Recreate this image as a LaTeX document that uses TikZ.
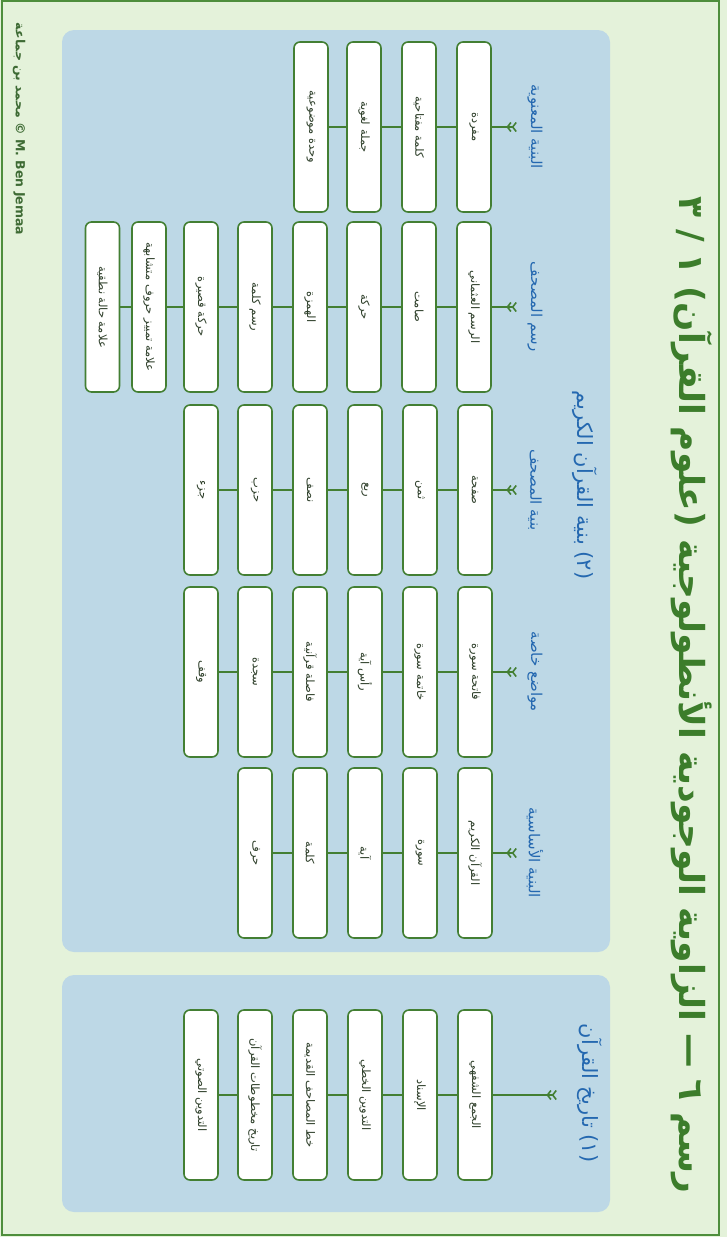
\documentclass[tikz,border=0pt]{standalone}
\usepackage{fontspec}
\usetikzlibrary{arrows.meta}
\TeXXeTstate=1
\setmainfont{DejaVu Sans}
\newfontfamily\arabicfont[Script=Arabic]{DejaVu Sans}
\newcommand{\artxt}[1]{{\arabicfont\beginR #1\endR}}
\definecolor{pagebg}{HTML}{E4F2DA}
\definecolor{pageborder}{HTML}{4E8E3C}
\definecolor{panelbg}{HTML}{BDD8E6}
\definecolor{boxline}{HTML}{437F33}
\definecolor{headblue}{HTML}{2468B0}
\definecolor{titlegreen}{HTML}{3C7D2B}
\definecolor{boxtext}{HTML}{2E3F2A}
\definecolor{foottext}{HTML}{3E6B34}
\begin{document}
\begin{tikzpicture}[x=1pt,y=1pt,
  itembox/.style={draw=boxline, line width=1.6pt, fill=white, rounded corners=6pt,
    minimum width=170pt, minimum height=34pt, inner sep=0pt, text=boxtext,
    font=\fontsize{11.5}{13}\selectfont},
  colhead/.style={text=headblue, inner sep=0pt, font=\fontsize{15}{17}\selectfont},
  bighead/.style={text=headblue, inner sep=0pt, font=\fontsize{21}{24}\selectfont},
  titletext/.style={text=titlegreen, inner sep=0pt, font=\bfseries\fontsize{34.5}{40}\selectfont},
  footer/.style={text=foottext, inner sep=0pt, font=\bfseries\fontsize{12.5}{14}\selectfont},
  link/.style={draw=boxline, line width=1.6pt},
  headarrow/.style={link, arrows={Straight Barb[reversed,length=3.5pt,width=9pt] Straight Barb[reversed,length=3.5pt,width=9pt]-}},
  panel/.style={fill=panelbg, rounded corners=12pt}
]
\useasboundingbox (0,-1237) rectangle (727,0);
\begin{scope}[rotate=-90, transform shape]
% page
\fill[pagebg] (0,0) rectangle (1237,727);
\draw[pageborder, line width=2pt] (1,2) rectangle (1235,719);
% panels
\fill[panel] (30,62) rectangle (952,610);
\fill[panel] (975,62) rectangle (1212,610);
% title
\node[titletext] (title) at (695,692) {\artxt{رسم ٦ — الزاوية الوجودية الأنطولوجية (علوم القرآن) ١ / ٣}};
% footer
\node[footer] (foot) at (129,19) {\artxt{محمد بن جماعة} © M. Ben Jemaa};
% section headers
\node[bighead] (h1) at (1093,590) {\artxt{(١) تاريخ القرآن}};
\node[bighead] (h2) at (485,585) {\artxt{(٢) بنية القرآن الكريم}};

% section 1
\coordinate (a-s1) at (1095,557);
\node[itembox] (s1-1) at (1095,475) {\artxt{الجمع الشفهي}};
\node[itembox] (s1-2) at (1095,420) {\artxt{الإسناد}};
\node[itembox] (s1-3) at (1095,365) {\artxt{التدوين الخطي}};
\node[itembox] (s1-4) at (1095,310) {\artxt{خط المصاحف القديمة}};
\node[itembox] (s1-5) at (1095,255) {\artxt{تاريخ مخطوطات القرآن}};
\node[itembox] (s1-6) at (1095,201) {\artxt{التدوين الصوتي}};
\draw[headarrow] (a-s1) -- (s1-1);
\foreach \i/\j in {1/2,2/3,3/4,4/5,5/6} \draw[link] (s1-\i) -- (s1-\j);

% column 1
\node[colhead] (h-c1) at (853,535) {\artxt{البنية الأساسية}};
\coordinate (a-c1) at (853,517);
\node[itembox] (c1-1) at (853,475) {\artxt{القرآن الكريم}};
\node[itembox] (c1-2) at (853,420) {\artxt{سورة}};
\node[itembox] (c1-3) at (853,365) {\artxt{آية}};
\node[itembox] (c1-4) at (853,310) {\artxt{كلمة}};
\node[itembox] (c1-5) at (853,255) {\artxt{حرف}};
\draw[headarrow] (a-c1) -- (c1-1);
\foreach \i/\j in {1/2,2/3,3/4,4/5} \draw[link] (c1-\i) -- (c1-\j);

% column 2
\node[colhead] (h-c2) at (672,535) {\artxt{مواضع خاصة}};
\coordinate (a-c2) at (672,517);
\node[itembox] (c2-1) at (672,475) {\artxt{فاتحة سورة}};
\node[itembox] (c2-2) at (672,420) {\artxt{خاتمة سورة}};
\node[itembox] (c2-3) at (672,365) {\artxt{رأس آية}};
\node[itembox] (c2-4) at (672,310) {\artxt{فاصلة قرآنية}};
\node[itembox] (c2-5) at (672,255) {\artxt{سجدة}};
\node[itembox] (c2-6) at (672,201) {\artxt{وقف}};
\draw[headarrow] (a-c2) -- (c2-1);
\foreach \i/\j in {1/2,2/3,3/4,4/5,5/6} \draw[link] (c2-\i) -- (c2-\j);

% column 3
\node[colhead] (h-c3) at (490,535) {\artxt{بنية المصحف}};
\coordinate (a-c3) at (490,517);
\node[itembox] (c3-1) at (490,475) {\artxt{صفحة}};
\node[itembox] (c3-2) at (490,420) {\artxt{ثمن}};
\node[itembox] (c3-3) at (490,365) {\artxt{ربع}};
\node[itembox] (c3-4) at (490,310) {\artxt{نصف}};
\node[itembox] (c3-5) at (490,255) {\artxt{حزب}};
\node[itembox] (c3-6) at (490,201) {\artxt{جزء}};
\draw[headarrow] (a-c3) -- (c3-1);
\foreach \i/\j in {1/2,2/3,3/4,4/5,5/6} \draw[link] (c3-\i) -- (c3-\j);

% column 4
\node[colhead] (h-c4) at (307,535) {\artxt{رسم المصحف}};
\coordinate (a-c4) at (307,517);
\node[itembox] (c4-1) at (307,474) {\artxt{الرسم العثماني}};
\node[itembox] (c4-2) at (307,419) {\artxt{صامت}};
\node[itembox] (c4-3) at (307,364) {\artxt{حركة}};
\node[itembox] (c4-4) at (307,310) {\artxt{الهمزة}};
\node[itembox] (c4-5) at (307,255) {\artxt{رسم كلمة}};
\node[itembox] (c4-6) at (307,201) {\artxt{حركة قصيرة}};
\node[itembox] (c4-7) at (307,149) {\artxt{علامة تمييز حروف متشابهة}};
\node[itembox] (c4-8) at (307,102.5) {\artxt{علامة حالة نطقية}};
\draw[headarrow] (a-c4) -- (c4-1);
\foreach \i/\j in {1/2,2/3,3/4,4/5,5/6,6/7,7/8} \draw[link] (c4-\i) -- (c4-\j);

% column 5
\node[colhead] (h-c5) at (127,535) {\artxt{البنية المعنوية}};
\coordinate (a-c5) at (127,517);
\node[itembox] (c5-1) at (127,474) {\artxt{مفردة}};
\node[itembox] (c5-2) at (127,419) {\artxt{كلمة مفتاحية}};
\node[itembox] (c5-3) at (127,364) {\artxt{جملة لغوية}};
\node[itembox] (c5-4) at (127,311) {\artxt{وحدة موضوعية}};
\draw[headarrow] (a-c5) -- (c5-1);
\foreach \i/\j in {1/2,2/3,3/4} \draw[link] (c5-\i) -- (c5-\j);
\end{scope}
\end{tikzpicture}
\end{document}
